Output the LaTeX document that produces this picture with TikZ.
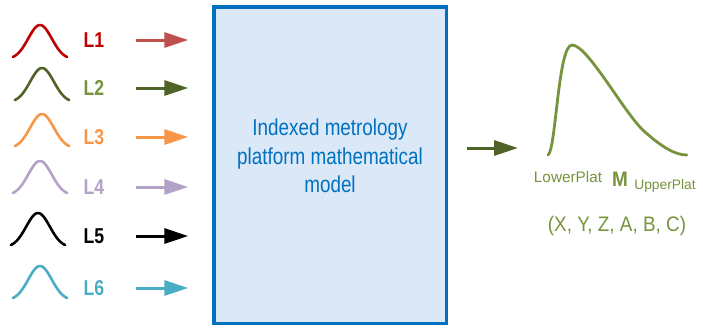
\documentclass[tikz,border=0pt]{standalone}
\usepackage{fontspec}
\setmainfont{Liberation Sans}
\newfontfamily\narrowsf[FakeStretch=0.82]{Liberation Sans}
\newfontfamily\semisf[FakeStretch=0.9]{Liberation Sans}
\usetikzlibrary{arrows.meta}
\definecolor{lred}{HTML}{C00000}
\definecolor{lredarr}{HTML}{C0504D}
\definecolor{dgreen}{HTML}{4F6228}
\definecolor{lgreen}{HTML}{77933C}
\definecolor{lorange}{HTML}{F79646}
\definecolor{lviolet}{HTML}{B3A2C7}
\definecolor{lteal}{HTML}{4BACC6}
\definecolor{boxblue}{HTML}{0070C0}
\definecolor{boxfill}{HTML}{DAE8F8}
% bell curve: centre x, centre y, colour
\newcommand\bell[3]{%
  \draw[#3,line width=2.6pt,line cap=round,smooth,domain=-2.3:2.3,samples=40]
    plot ({#1+11.8*\x},{#2+18.5-34.5*exp(-0.5*(\x)*(\x))});}
\begin{document}
\begin{tikzpicture}[x=1pt,y=-1pt,>={Triangle[length=24pt,width=15pt]},
  lbl/.style={font=\narrowsf\bfseries\fontsize{21.5}{24}\selectfont,inner sep=1pt},
  arr/.style={->,line width=3pt,shorten <=31pt,shorten >=23.75pt},
  plat/.style={font=\fontsize{15.3}{18}\selectfont,text=lgreen,inner sep=0pt}]
\useasboundingbox (0,0) rectangle (703,327);
% the model
\node[draw=boxblue,fill=boxfill,line width=3.5pt,minimum width=232.5pt,
  minimum height=316.5pt] (model) at (330,165) {};
\node[text=boxblue,align=center,font=\narrowsf\fontsize{23}{28.5}\selectfont]
  (mtext) at ([yshift=9pt]model.center)
  {Indexed metrology\\platform mathematical\\model};
% inputs
\bell{40}{41}{lred}
\node[lbl,text=lred] (L1) at (94,40) {L1};
\draw[arr,lredarr] (L1) -- (L1 -| model.west);
\bell{42}{84}{dgreen}
\node[lbl,text=lgreen] (L2) at (94,88) {L2};
\draw[arr,dgreen] (L2) -- (L2 -| model.west);
\bell{42}{130}{lorange}
\node[lbl,text=lorange] (L3) at (94,137) {L3};
\draw[arr,lorange] (L3) -- (L3 -| model.west);
\bell{40}{177}{lviolet}
\node[lbl,text=lviolet] (L4) at (94,187) {L4};
\draw[arr,lviolet] (L4) -- (L4 -| model.west);
\bell{38}{229}{black}
\node[lbl,text=black] (L5) at (94,236) {L5};
\draw[arr,black] (L5) -- (L5 -| model.west);
\bell{40}{282}{lteal}
\node[lbl,text=lteal] (L6) at (94,288) {L6};
\draw[arr,lteal] (L6) -- (L6 -| model.west);
% output
\coordinate (dist) at (518,148);
\draw[->,line width=3pt,dgreen,shorten <=18.75pt] (model.east |- dist) -- (dist);
\draw[lgreen,line width=2.8pt,line cap=round]
  (548,155) .. controls (556,150) and (558,45) .. (572,45)
  .. controls (588,45) and (625,115) .. (645,132)
  .. controls (662,147) and (675,155) .. (687,155);
\node[plat] (lower) at (568,177) {LowerPlat};
\node[plat,font=\semisf\bfseries\fontsize{21}{24}\selectfont] (M) at (620,179) {M};
\node[plat,font=\fontsize{13.8}{17}\selectfont] (upper) at (665,186) {UpperPlat};
\node[plat,font=\semisf\fontsize{21}{24}\selectfont] (coords) at (617,226) {(X, Y, Z, A, B, C)};
\end{tikzpicture}
\end{document}
